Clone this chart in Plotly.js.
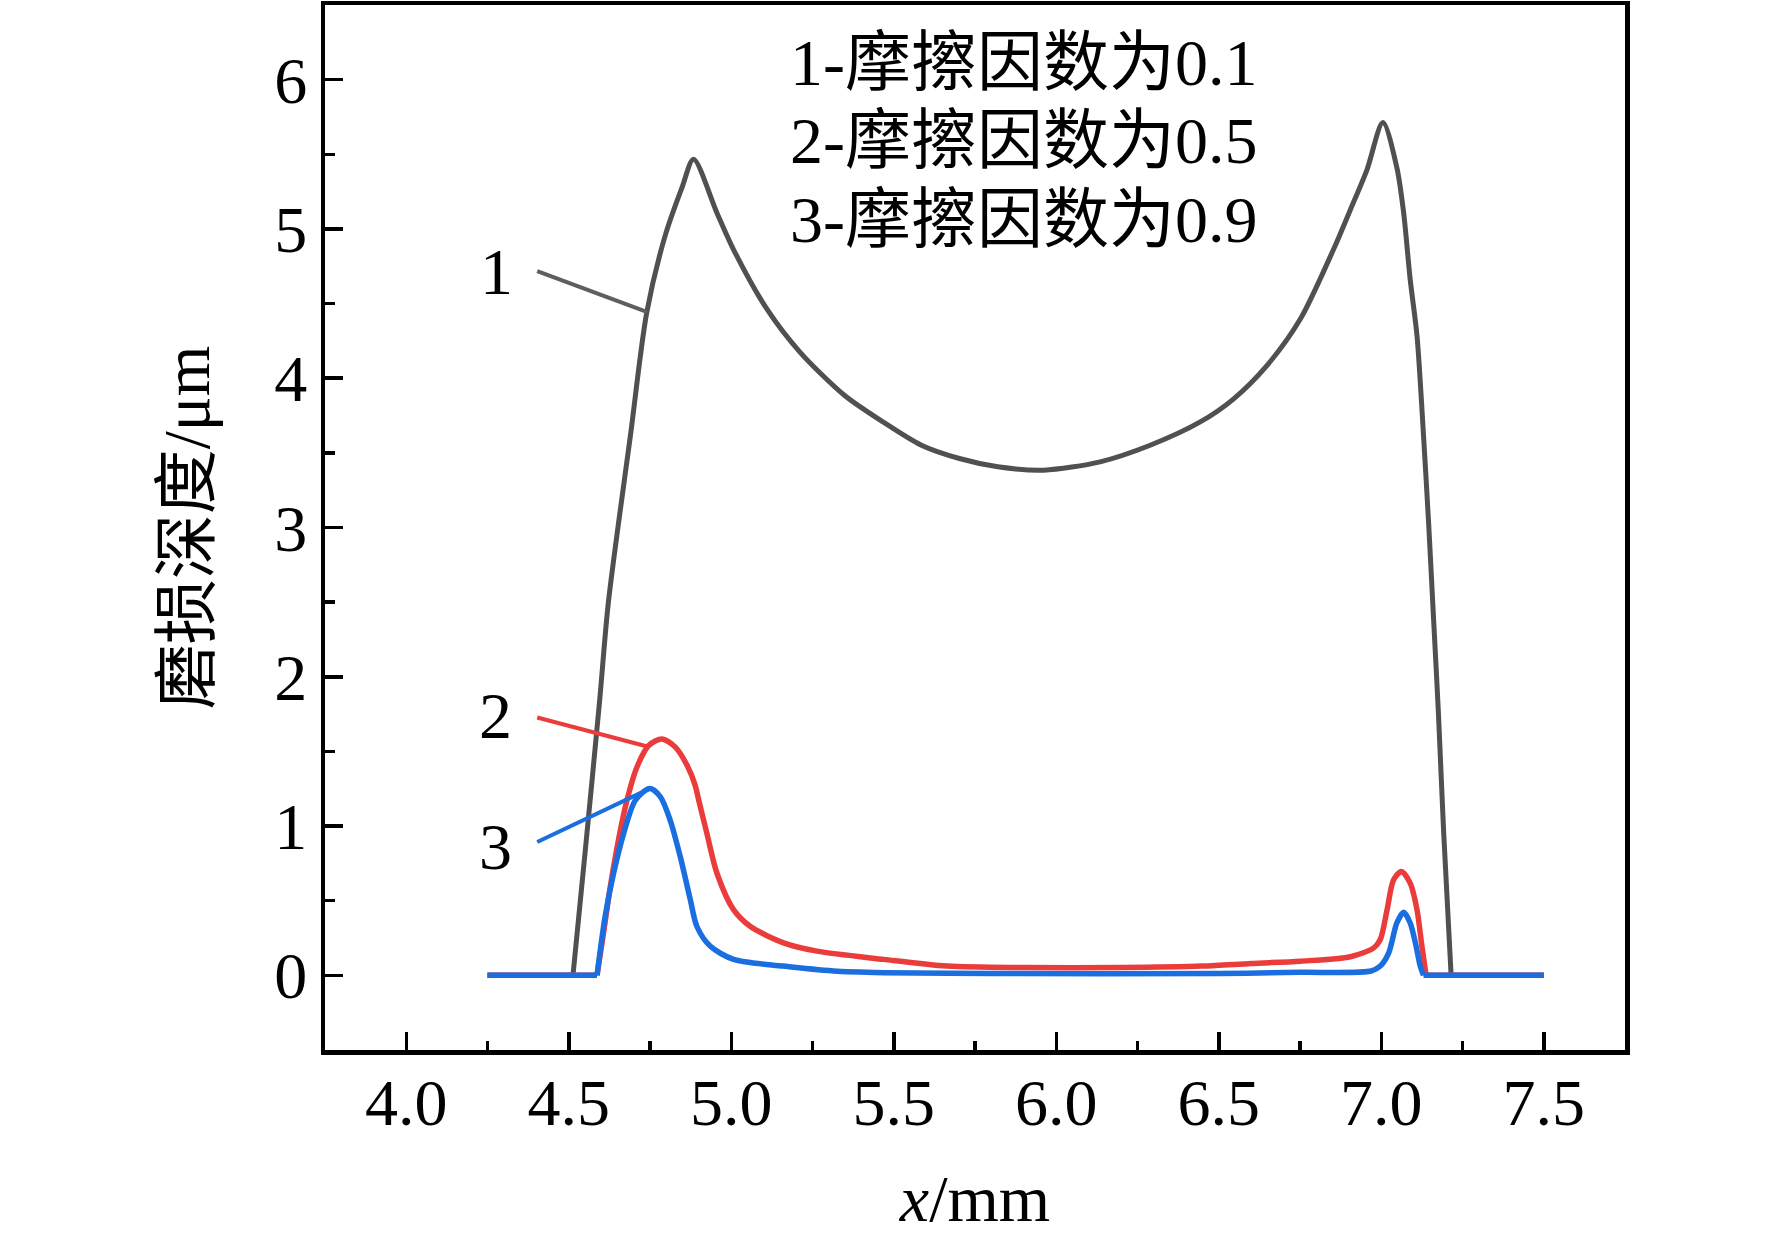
<!DOCTYPE html>
<html>
<head>
<meta charset="utf-8">
<script src="https://cdn.plot.ly/plotly-3.0.1.min.js"></script>
<style>
  html, body { margin: 0; padding: 0; background: #fff; }
  #chart { width: 1772px; height: 1244px; }
</style>
</head>
<body>
<div id="chart"></div>
<script>
// Wear depth along x for three friction coefficients

// curve 1: friction 0.1
const x1 = [4.25, 4.513, 4.551, 4.595, 4.622, 4.69, 4.74, 4.796, 4.849, 4.884,
            4.956, 5.007, 5.11, 5.212, 5.349, 5.467, 5.585, 5.702, 5.82, 5.961,
            6.135, 6.289, 6.443, 6.546, 6.648, 6.751, 6.853, 6.905, 6.956, 7.005,
            7.048, 7.069, 7.089, 7.11, 7.13, 7.146, 7.161, 7.176, 7.192, 7.215, 7.5];
const y1 = [0, 0, 0.84, 1.84, 2.5, 3.62, 4.44, 4.95, 5.28, 5.467,
            5.107, 4.862, 4.462, 4.173, 3.884, 3.707, 3.551, 3.462, 3.407, 3.384,
            3.44, 3.551, 3.707, 3.862, 4.084, 4.396, 4.862, 5.129, 5.396, 5.713,
            5.411, 5.107, 4.662, 4.284, 3.618, 3.02, 2.387, 1.753, 0.96, 0, 0];

// curve 2: friction 0.5
const x2 = [4.25, 4.587, 4.607, 4.628, 4.653, 4.679, 4.71, 4.746, 4.787, 4.828,
            4.864, 4.889, 4.9, 4.925, 4.956, 5.007, 5.058, 5.161, 5.264, 5.469,
            5.664, 5.9, 6.2, 6.45, 6.6, 6.751, 6.905, 6.977, 6.997, 7.018,
            7.038, 7.062, 7.089, 7.11, 7.125, 7.138, 7.5];
const y2 = [0, 0, 0.284, 0.596, 0.907, 1.173, 1.396, 1.54, 1.584, 1.529,
            1.407, 1.273, 1.173, 0.951, 0.684, 0.44, 0.329, 0.218, 0.162, 0.107,
            0.062, 0.052, 0.052, 0.062, 0.08, 0.095, 0.125, 0.184, 0.24, 0.44,
            0.64, 0.696, 0.618, 0.44, 0.196, 0, 0];

// curve 3: friction 0.9
const x3 = [4.25, 4.587, 4.612, 4.638, 4.669, 4.705, 4.749, 4.782, 4.812, 4.843,
            4.874, 4.894, 4.935, 5.007, 5.161, 5.315, 5.469, 5.8, 6.5, 6.75,
            6.969, 6.997, 7.023, 7.048, 7.069, 7.089, 7.105, 7.12, 7.13, 7.5];
const y3 = [0, 0, 0.396, 0.684, 0.951, 1.173, 1.251, 1.196, 1.04, 0.796,
            0.507, 0.329, 0.196, 0.107, 0.062, 0.029, 0.018, 0.012, 0.012, 0.02,
            0.029, 0.062, 0.151, 0.351, 0.422, 0.351, 0.218, 0.062, 0, 0];

// curve labels and their leader lines
const labelText = ['1', '2', '3'];
const labelX = [4.277, 4.274, 4.274];
const labelY = [4.717, 1.74, 0.86];
const leaderX = [[4.403, 4.74], [4.403, 4.742], [4.403, 4.749]];
const leaderY = [[4.717, 4.444], [1.727, 1.533], [0.893, 1.251]];

const legendLines = ['1-摩擦因数为0.1', '2-摩擦因数为0.5', '3-摩擦因数为0.9'];

const colors = ['#505050', '#eb3c3c', '#1a6ee0'];
const widths = [5, 5.5, 5.5];
const leaderColors = ['#5e5e5e', '#eb3c3c', '#1a6ee0'];
const FONT = '"Liberation Serif", "Times New Roman", "Noto Sans CJK SC", serif';

// flat zero runs stay straight; only the raised part is smoothed
const traces = [];
[[x1, y1], [x2, y2], [x3, y3]].forEach(([xs, ys], i) => {
    const n = xs.length;
    const base = { mode: 'lines', hoverinfo: 'skip' };
    traces.push({ ...base, x: xs.slice(0, 2), y: ys.slice(0, 2), line: { color: colors[i], width: widths[i] } });
    traces.push({ ...base, x: xs.slice(1, n - 1), y: ys.slice(1, n - 1),
                  line: { color: colors[i], width: widths[i], shape: 'spline', smoothing: 0.8 } });
    traces.push({ ...base, x: xs.slice(n - 2), y: ys.slice(n - 2), line: { color: colors[i], width: widths[i] } });
});
leaderX.forEach((lx, i) => {
    traces.push({
        x: lx, y: leaderY[i], mode: 'lines', hoverinfo: 'skip',
        line: { color: leaderColors[i], width: 4 },
    });
});

const annotations = labelText.map((t, i) => ({
    x: labelX[i], y: labelY[i], xref: 'x', yref: 'y', text: t, showarrow: false,
    font: { family: FONT, size: 66, color: '#000' },
}));
const legendY = [0.945, 0.870, 0.7946];
legendLines.forEach((t, i) => {
    annotations.push({
        x: 0.356, y: legendY[i], xref: 'paper', yref: 'paper', xanchor: 'left', yanchor: 'middle',
        text: t, showarrow: false, font: { family: FONT, size: 66, color: '#000' },
    });
});

const axisCommon = {
    showline: true, linecolor: '#000', linewidth: 4.5, mirror: true,
    showgrid: false, zeroline: false,
    ticks: 'inside', ticklen: 18, tickwidth: 3.5, tickcolor: '#000',
    tickfont: { family: FONT, size: 66, color: '#000' },
};

const layout = {
    width: 1772, height: 1244,
    paper_bgcolor: '#fff', plot_bgcolor: '#fff',
    showlegend: false,
    margin: { l: 325, r: 147, t: 5, b: 194 },
    xaxis: {
        ...axisCommon,
        range: [3.75, 7.75], dtick: 0.5, tick0: 4, tickformat: '.1f',
        ticklabelstandoff: -9,
        minor: { dtick: 0.25, ticks: 'inside', ticklen: 9, tickwidth: 3.5, tickcolor: '#000' },
        title: { text: '<i>x</i>/mm', font: { family: FONT, size: 66, color: '#000' }, standoff: 38 },
    },
    yaxis: {
        ...axisCommon,
        range: [-0.5, 6.5], dtick: 1, tick0: 0,
        minor: { dtick: 0.5, ticks: 'inside', ticklen: 10, tickwidth: 3.5, tickcolor: '#000' },
        title: { text: '磨损深度/μm', font: { family: FONT, size: 65, color: '#000' }, standoff: 45 },
    },
    annotations,
};

Plotly.newPlot('chart', traces, layout, { displayModeBar: false, staticPlot: true });
</script>
</body>
</html>
